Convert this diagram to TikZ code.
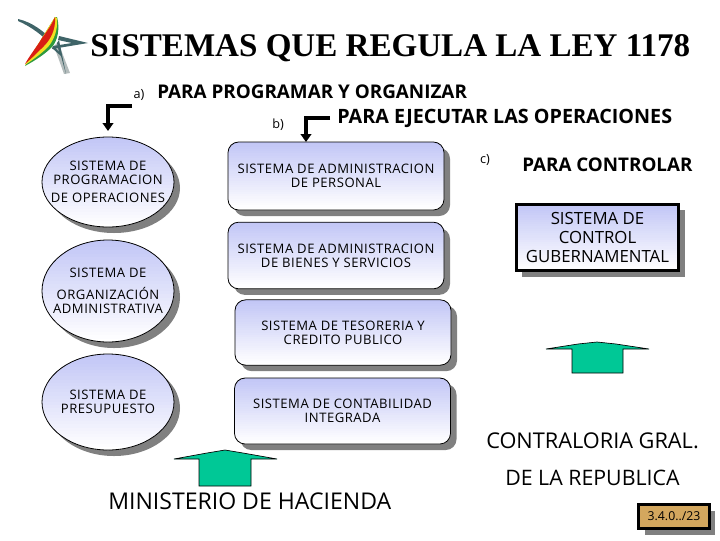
\documentclass[tikz,border=0pt]{standalone}
\usepackage{fontspec}
\setmainfont{Open Sans}
\newfontfamily\titlefont{Liberation Serif}
\usetikzlibrary{shadows,calc,arrows.meta,shapes.geometric}
\definecolor{topblue}{HTML}{C2C6F6}
\definecolor{shade}{HTML}{808080}
\definecolor{teal}{HTML}{00C896}
\definecolor{badge}{HTML}{D3A75E}
\definecolor{stardark}{HTML}{3F6468}
\definecolor{starlight}{HTML}{B4BCBC}
\definecolor{flagred}{HTML}{D81E14}
\definecolor{flagyellow}{HTML}{F0E020}
\definecolor{flaggreen}{HTML}{2E9A3E}
\newcommand{\spaced}[1]{\fontsize{#1pt}{10.5pt}\addfontfeature{LetterSpace=4}\selectfont}
\tikzset{
  fadefill/.style={fill=white,path picture={
    \foreach \i in {0,...,29}{
      \pgfmathsetmacro\pct{100*(1-\i/29)}
      \fill[sharp corners,topblue!\pct!white]
        ($(path picture bounding box.north west)!{\i/30}!(path picture bounding box.south west)$)
        rectangle
        ($(path picture bounding box.north east)!{(\i+1.5)/30}!(path picture bounding box.south east)$);
    }}},
  sys/.style={draw=black,line width=0.6pt,fadefill,align=center,
    inner sep=0pt,outer sep=0pt,font=\spaced{9.8},
    drop shadow={shadow xshift=4.5pt,shadow yshift=-4.5pt,fill=shade,opacity=1}},
  sysell/.style={sys,ellipse,minimum width=99pt,inner xsep=-25pt,inner ysep=-12pt},
  sysrect/.style={sys,rectangle,rounded corners=8pt,minimum width=162pt},
  ctrlbox/.style={draw=black,line width=2.2pt,fadefill,align=center,
    inner sep=0pt,outer sep=0pt,minimum width=122pt,minimum height=50pt,
    font=\fontsize{12.6pt}{14.2pt}\selectfont,
    drop shadow={shadow xshift=4.5pt,shadow yshift=-4.5pt,fill=shade,opacity=1}},
  badgebox/.style={draw=black,line width=2.2pt,fill=badge,inner sep=0pt,outer sep=0pt,
    minimum width=53pt,minimum height=18pt,font=\fontsize{9.2pt}{10pt}\selectfont,
    drop shadow={shadow xshift=4.5pt,shadow yshift=-4.5pt,fill=shade,opacity=1}},
  head/.style={anchor=west,inner sep=0pt},
  tag/.style={font=\fontsize{9.5pt}{11pt}\selectfont,inner sep=0pt},
  big/.style={inner sep=0pt,anchor=west},
  elbow/.style={line width=2.8pt,-{Triangle[length=6pt,width=8pt]}},
  blockarrow/.style={draw=black,line width=0.5pt,fill=teal},
}
\begin{document}
\begin{tikzpicture}[x=0.75pt,y=-0.75pt]
\useasboundingbox (0,0) rectangle (720,540);
% logo
\fill[starlight] (58,42) -- (70,73) -- (64,74) -- (54,46) -- cycle;
\fill[stardark] (18,19) .. controls (32,22) and (45,32) .. (54,42) -- (52,46) .. controls (44,36) and (30,26) .. (18,21) -- cycle;
\fill[stardark] (88,43) -- (59,36) -- (58,40) -- (72,43) -- (53,46) -- (52,49) -- cycle;
\fill[stardark] (66,74) -- (59,40) -- (57,43) -- (59,52) -- (54,46) -- (52,48) -- (61,56) -- cycle;
\fill[flaggreen] (55,17) -- (57,17) .. controls (60,28) and (58,40) .. (52,47) .. controls (45,54) and (36,60) .. (25,66) -- cycle;
\fill[flagyellow] (55,17) -- (57,18) .. controls (58,30) and (54,40) .. (48,47) .. controls (42,53) and (34,59) .. (25,65) -- cycle;
\fill[flagred] (55,17) .. controls (56,30) and (50,40) .. (44,46) .. controls (38,52) and (32,58) .. (25,64) .. controls (30,55) and (38,45) .. (42,38) .. controls (48,30) and (52,24) .. (55,17) -- cycle;
% title
\node[font=\titlefont\fontsize{24.8pt}{26pt}\bfseries\selectfont,inner sep=0pt,anchor=west] (title) at (90,48) {SISTEMAS QUE REGULA LA LEY 1178};
% headings
\node[tag] (ta) at (139,95) {a)};
\node[head,font=\fontsize{14.15pt}{16pt}\bfseries\selectfont] (ha) at (157,92) {PARA PROGRAMAR Y ORGANIZAR};
\node[tag] (tb) at (278,125) {b)};
\node[head,font=\fontsize{14.8pt}{16pt}\bfseries\selectfont] (hb) at (337,118) {PARA EJECUTAR LAS OPERACIONES};
\node[tag] (tc) at (485,160) {c)};
\node[head,font=\fontsize{14.1pt}{16pt}\bfseries\selectfont] (hc) at (522,165) {PARA CONTROLAR};
% ellipses
\node[sysell,minimum height=67.5pt] (e1) at (108,182) {SISTEMA DE\\PROGRAMACION\\[3pt]DE OPERACIONES};
\node[sysell,minimum height=76.5pt] (e2) at (108,291) {SISTEMA DE\\[6pt]ORGANIZACIÓN\\ADMINISTRATIVA};
\node[sysell,minimum height=72pt] (e3) at (108,402) {SISTEMA DE\\PRESUPUESTO};
% rounded boxes
\node[sysrect,minimum height=51pt] (r1) at (336,176) {SISTEMA DE ADMINISTRACION\\DE PERSONAL};
\node[sysrect,minimum height=50pt] (r2) at (336,255.5) {SISTEMA DE ADMINISTRACION\\DE BIENES Y SERVICIOS};
\node[sysrect,minimum height=49pt] (r3) at (343,332.5) {SISTEMA DE TESORERIA Y\\CREDITO PUBLICO};
\node[sysrect,minimum height=49.5pt] (r4) at (342.5,411) {SISTEMA DE CONTABILIDAD\\INTEGRADA};
% control box
\node[ctrlbox] (c1) at (597.5,237.5) {SISTEMA DE\\CONTROL\\GUBERNAMENTAL};
% elbows
\coordinate (astart) at (132,106);
\coordinate (bstart) at (330,118);
\coordinate (bend) at (306,142);
\draw[elbow,shorten >=4.5pt] (astart) -| (e1.north);
\draw[elbow] (bstart) -| (bend);
% block arrows
\draw[blockarrow] (174,459) -- (207,453) -- (225,450) -- (243,453) -- (277,459) -- (251,459) -- (251,486) -- (199,486) -- (199,459) -- cycle;
\draw[blockarrow] (546,349) -- (578,344) -- (597,342) -- (616,344) -- (649,349) -- (623,349) -- (623,373) -- (572,373) -- (572,349) -- cycle;
% organisation labels
\node[big,font=\fontsize{17.3pt}{19pt}\selectfont] (ml) at (108,501) {MINISTERIO DE HACIENDA};
\node[big,font=\fontsize{16.3pt}{18pt}\selectfont] (cg) at (486,441) {CONTRALORIA GRAL.};
\node[big,font=\fontsize{16pt}{18pt}\selectfont] (dr) at (505,478) {DE LA REPUBLICA};
% badge
\node[badgebox] (bd) at (674,516.5) {3.4.0../23};
\end{tikzpicture}
\end{document}
